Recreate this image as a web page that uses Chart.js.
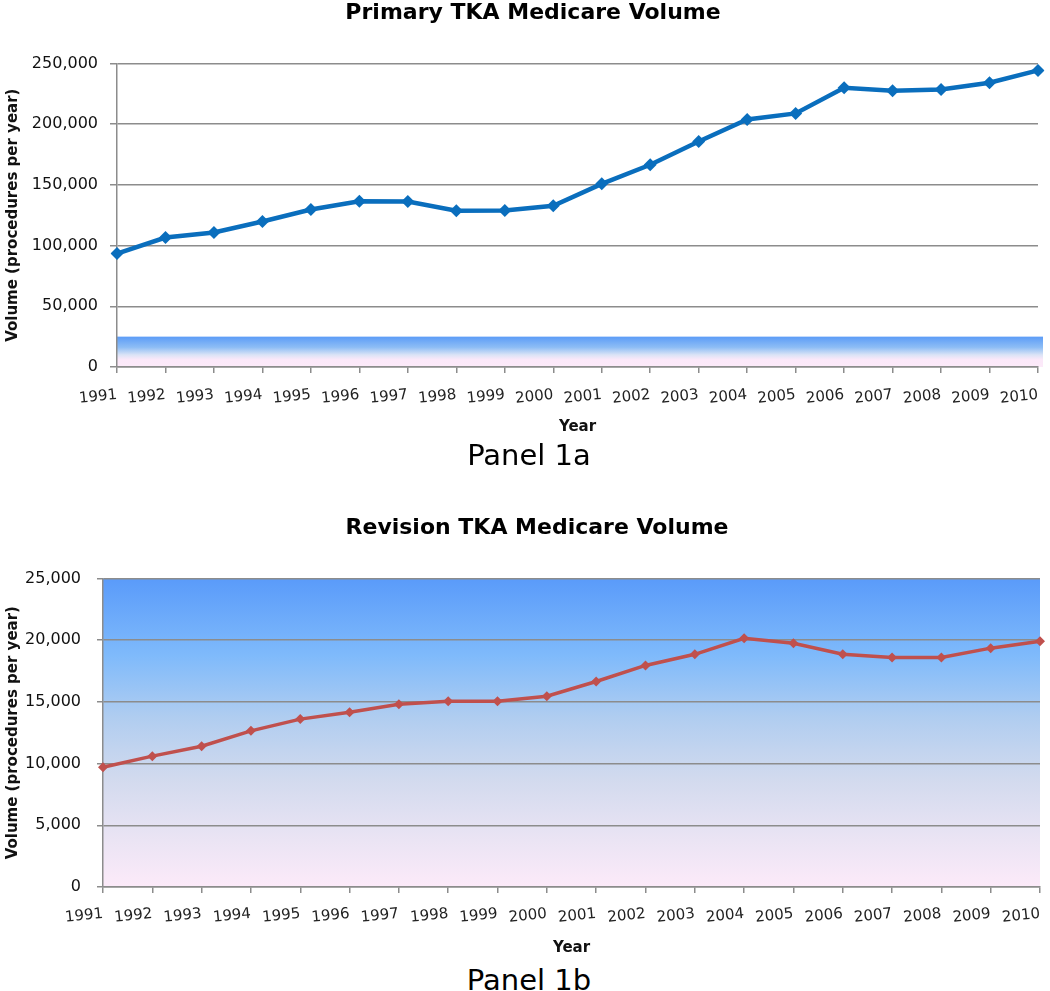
<!DOCTYPE html>
<html>
<head>
<meta charset="utf-8">
<script src="https://cdn.jsdelivr.net/npm/chart.js@4"></script>
<style>
	body { margin: 0; background: #fff; width: 1050px; height: 991px; position: relative; overflow: hidden; }
	canvas { position: absolute; left: 0; }
	.panel { position: absolute; left: 0; width: 1050px; text-align: center; font-family: "DejaVu Sans", sans-serif; font-size: 29px; color: #000; }
</style>
</head>
<body>
<canvas id="primaryChart" width="1050" height="440" style="top:0"></canvas>
<div class="panel" style="top:438px; padding-left:4px">Panel 1a</div>
<canvas id="revisionChart" width="1050" height="461" style="top:500px"></canvas>
<div class="panel" style="top:963px; padding-left:4px">Panel 1b</div>
<script>
const years = ['1991', '1992', '1993', '1994', '1995', '1996', '1997', '1998', '1999', '2000',
	'2001', '2002', '2003', '2004', '2005', '2006', '2007', '2008', '2009', '2010'];
const primaryVolume = [93400, 106600, 110700, 119800, 129700, 136500, 136300, 128600, 128800, 132700,
	150800, 166500, 185700, 203800, 208800, 229900, 227500, 228600, 234100, 244200];
const revisionVolume = [9700, 10600, 11400, 12650, 13600, 14150, 14800, 15050, 15050, 15450,
	16650, 17950, 18850, 20150, 19750, 18850, 18600, 18600, 19350, 19900];
const primaryMax = 250000, primaryStep = 50000, primaryBand = 25000;
const revisionMax = 25000, revisionStep = 5000;

const font = '"DejaVu Sans", sans-serif';

// plot-area background: gradient from the top value down to zero
const gradientBg = {
	id: 'gradientBg',
	beforeDraw(chart, args, opts) {
		const { ctx, chartArea, scales } = chart;
		const top = scales.y.getPixelForValue(opts.upTo);
		const bottom = scales.y.getPixelForValue(0);
		const g = ctx.createLinearGradient(0, top, 0, bottom);
		opts.stops.forEach(s => g.addColorStop(s[0], s[1]));
		ctx.save();
		ctx.fillStyle = g;
		ctx.fillRect(chartArea.left, top, chartArea.right - chartArea.left + opts.extra, bottom - top);
		ctx.restore();
	}
};

// the original titles sit a bit right of the canvas centre
const titleShift = {
	id: 'titleShift',
	afterLayout(chart, args, opts) {
		if (chart.titleBlock) {
			chart.titleBlock.left += opts.shift;
			chart.titleBlock.right += opts.shift;
		}
	}
};

function makeChart(id, values, cfg) {
	return new Chart(document.getElementById(id), {
		type: 'line',
		data: {
			labels: years,
			datasets: [{
				data: values,
				borderColor: cfg.color,
				backgroundColor: cfg.color,
				borderWidth: cfg.lineWidth,
				pointStyle: 'rectRot',
				pointRadius: cfg.pointRadius,
				pointBorderWidth: 0,
				tension: 0
			}]
		},
		options: {
			responsive: false,
			animation: false,
			layout: { padding: { left: 0, right: cfg.rightPad, top: 0, bottom: 0 } },
			plugins: {
				legend: { display: false },
				tooltip: { enabled: false },
				title: {
					display: true,
					text: cfg.title,
					color: '#000',
					font: { family: font, size: 22, weight: 'bold' },
					padding: { top: cfg.titleTop, bottom: cfg.titleBottom }
				},
				titleShift: { shift: cfg.titleShift },
				gradientBg: { upTo: cfg.bgUpTo, stops: cfg.stops, extra: cfg.bgExtra }
			},
			scales: {
				x: {
					grid: { display: true, drawOnChartArea: false, drawTicks: true, tickLength: 6, color: '#8c8c8c', lineWidth: 1.5 },
					border: { display: true, color: '#8c8c8c', width: 1.5 },
					ticks: { color: '#222', font: { family: font, size: 15 }, minRotation: 6, maxRotation: 6, padding: cfg.xTickPad, autoSkip: false },
					title: { display: true, text: 'Year', color: '#111', font: { family: font, size: 15, weight: 'bold' }, padding: { top: 4, bottom: 4 } },
					afterFit: s => {
						s.height = cfg.xHeight;
						s.paddingRight = 0; // labels are right-aligned to the tick, no overhang
					}
				},
				y: {
					min: 0,
					max: cfg.max,
					grid: { color: '#8c8c8c', lineWidth: 1.5, tickLength: cfg.tickLen },
					border: { display: true, color: '#8c8c8c', width: 1.5 },
					ticks: {
						stepSize: cfg.step,
						color: '#111',
						padding: cfg.tickPad,
						font: { family: font, size: 16 },
						callback: v => v.toLocaleString('en-US')
					},
					title: { display: true, text: 'Volume (procedures per year)', color: '#111', font: { family: font, size: 15, weight: 'bold' }, padding: { top: 4, bottom: 4 } },
					afterFit: s => { s.width = cfg.yWidth; }
				}
			}
		},
		plugins: [gradientBg, titleShift]
	});
}

makeChart('primaryChart', primaryVolume, {
	title: 'Primary TKA Medicare Volume', titleShift: 14,
	color: '#0a6ebd', lineWidth: 4.5, pointRadius: 6.5,
	max: primaryMax, step: primaryStep,
	titleTop: 0, titleBottom: 37, xHeight: 73, yWidth: 117, rightPad: 12,
	tickLen: 7, tickPad: 12, xTickPad: 13,
	bgUpTo: primaryBand, bgExtra: 5,
	stops: [[0, '#5c9cf7'], [0.35, '#8dbdf5'], [0.6, '#dbe3f6'], [0.75, '#fbe8f9'], [1, '#fceaf9']]
});

makeChart('revisionChart', revisionVolume, {
	title: 'Revision TKA Medicare Volume', titleShift: 17,
	color: '#c0504d', lineWidth: 3.5, pointRadius: 5,
	max: revisionMax, step: revisionStep,
	titleTop: 15, titleBottom: 37, xHeight: 74, yWidth: 103, rightPad: 10,
	tickLen: 6, tickPad: 16, xTickPad: 12,
	bgUpTo: revisionMax, bgExtra: 0,
	stops: [[0, '#5a9bfa'], [0.25, '#7fbafb'], [0.45, '#b0cdf0'], [0.65, '#d2daee'], [0.85, '#ebe4f4'], [1, '#fceaf9']]
});
</script>
</body>
</html>
